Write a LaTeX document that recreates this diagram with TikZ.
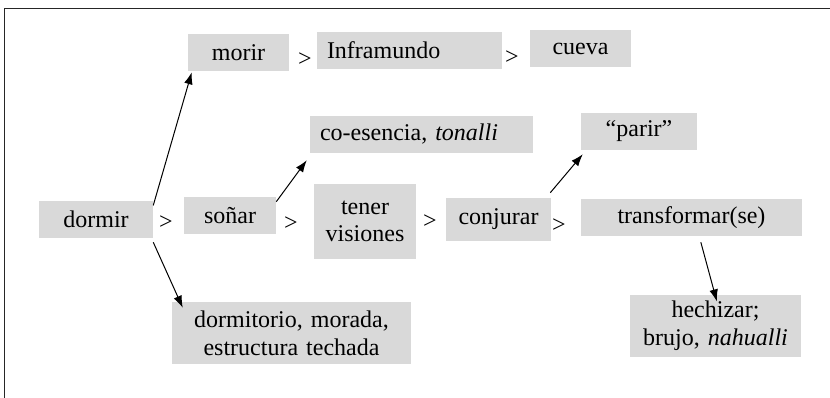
\documentclass[tikz,border=0pt]{standalone}
\usepackage{fontspec}
\setmainfont{Liberation Serif}
\usetikzlibrary{arrows.meta}

\begin{document}
\begin{tikzpicture}[x=0.75pt,y=-0.75pt,>={Latex[length=9pt,width=6.5pt]},
    box/.style={fill=black!15,inner xsep=0pt,inner ysep=0pt,align=center,font=\fontsize{18}{20.7}\selectfont},
    sign/.style={inner sep=0pt,font=\fontsize{18}{20.7}\selectfont}]
    \useasboundingbox (0,0) rectangle (830,398);
    \draw[line width=1.1pt,black!85] (830,8.5) -- (4.5,8.5) -- (4.5,398);

    \node[box,text width=85.5pt,minimum height=27.75pt] (dormir) at (96,219.5) {dormir};
    \node[box,text width=69pt,minimum height=27.75pt] (sonar) at (230,215.5) {soñar};
    \node[box,text width=76.5pt,minimum height=56.25pt] (tener) at (365,221.5) {tener\\visiones};
    \node[box,text width=78.75pt,minimum height=32.25pt] (conjurar) at (498.5,219.5) {conjurar};
    \node[box,text width=165.75pt,minimum height=27.75pt] (transformar) at (691.5,217.5) {transformar(se)};
    \node[box,text width=75.75pt,minimum height=27.75pt] (morir) at (238.5,52.5) {morir};
    \node[box,text width=123.75pt,inner xsep=7.5pt,align=left,minimum height=27.75pt] (inframundo) at (409.5,50.5) {Inframundo};
    \node[box,text width=75.75pt,minimum height=27.75pt] (cueva) at (580.5,48.5) {cueva};
    \node[box,text width=152.25pt,inner xsep=7.5pt,align=left,minimum height=27.75pt] (coesencia) at (421.5,134.5) {co-esencia, \textit{tonalli}};
    \node[box,text width=75pt,inner xsep=6pt,minimum height=27.75pt] (parir) at (639,131.5) {“parir”};
    \node[box,text width=179.25pt,minimum height=46.5pt] (dormitorio) at (291.5,333) {dormitorio, morada,\\estructura techada};
    \node[box,text width=128.25pt,minimum height=46.5pt] (hechizar) at (715.5,326) {hechizar;\\brujo, \textit{nahualli}};

    \node[sign] (gt1) at (305,60) {>};
    \node[sign] (gt2) at (512,58) {>};
    \node[sign] (gt3) at (166,223) {>};
    \node[sign] (gt4) at (291,224) {>};
    \node[sign] (gt5) at (430,222) {>};
    \node[sign] (gt6) at (559,226) {>};

    \path[->,line width=0.75pt]
        ([yshift=-3.5pt]dormir.north east) edge ([xshift=3pt,yshift=-0.75pt]morir.south west)
        ([yshift=-3pt]dormir.south east) edge ([xshift=8.25pt,yshift=-4.5pt]dormitorio.north west)
        ([yshift=-3.75pt]sonar.north east) edge ([xshift=-2.25pt,yshift=-5.25pt]coesencia.south west)
        ([xshift=-0.75pt,yshift=3.75pt]conjurar.north east) edge ([xshift=1.5pt,yshift=-3pt]parir.south west)
        ([xshift=7pt,yshift=-4.5pt]transformar.south) edge ([xshift=1pt,yshift=-5pt]hechizar.north)
        ;
\end{tikzpicture}
\end{document}
